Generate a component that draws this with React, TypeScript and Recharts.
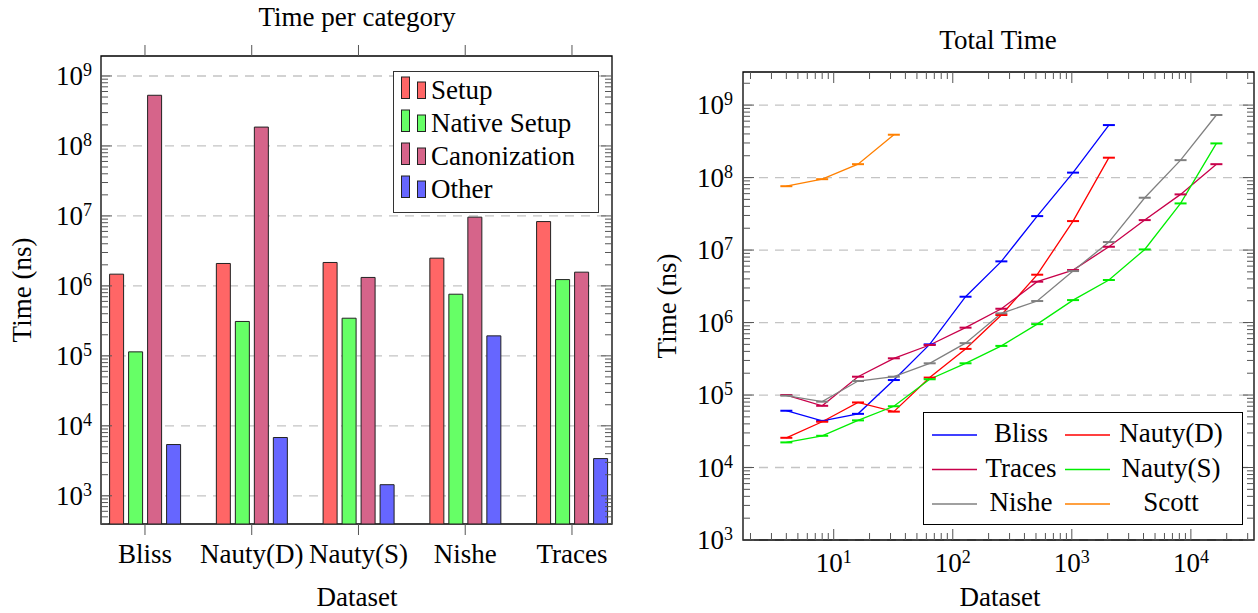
import React from "react";
import { BarChart, Bar, LineChart, Line, XAxis, YAxis, CartesianGrid, Legend, ReferenceArea } from "recharts";

// left panel: time per category (ns)
const categories = ["Bliss", "Nauty(D)", "Nauty(S)", "Nishe", "Traces"];
const setupTimes = [1.47e6, 2.09e6, 2.16e6, 2.49e6, 8.3e6];
const nativeSetupTimes = [1.14e5, 3.1e5, 3.45e5, 7.6e5, 1.23e6];
const canonizationTimes = [5.3e8, 1.86e8, 1.32e6, 9.6e6, 1.57e6];
const otherTimes = [5.4e3, 6.8e3, 1.44e3, 1.93e5, 3.4e3];
const barNames = ["Setup", "Native Setup", "Canonization", "Other"];

// right panel: total time per dataset size (ns)
const sizes = [4, 8, 16, 32, 64, 128, 256, 512, 1024, 2048, 4096, 8192, 16384];
const blissTotal = [6.07e4, 4.4e4, 5.5e4, 1.61e5, 5.0e5, 2.27e6, 6.98e6, 2.94e7, 1.17e8, 5.3e8];
const nautyDTotal = [2.57e4, 4.28e4, 7.9e4, 5.9e4, 1.74e5, 4.33e5, 1.27e6, 4.57e6, 2.51e7, 1.88e8];
const tracesTotal = [1.0e5, 7.1e4, 1.79e5, 3.21e5, 4.9e5, 8.5e5, 1.55e6, 3.66e6, 5.3e6, 1.11e7, 2.59e7, 5.86e7, 1.53e8];
const nautySTotal = [2.22e4, 2.74e4, 4.47e4, 7.0e4, 1.65e5, 2.74e5, 4.76e5, 9.5e5, 2.04e6, 3.86e6, 1.02e7, 4.4e7, 2.96e8];
const nisheTotal = [9.8e4, 8.1e4, 1.56e5, 1.79e5, 2.74e5, 5.2e5, 1.34e6, 1.98e6, 5.13e6, 1.29e7, 5.27e7, 1.74e8, 7.3e8];
const scottTotal = [7.6e7, 9.5e7, 1.53e8, 3.9e8];

const FONT = "Liberation Serif";
const H = 613;

const LEFT_W = 630;
const LEFT_MARGIN = { top: 56, right: 18, bottom: 0, left: 0 };
const LEFT_Y_WIDTH = 101;
const LEFT_X_HEIGHT = 89;
const LEFT_PLOT_W = LEFT_W - LEFT_MARGIN.right - LEFT_Y_WIDTH;
const LEFT_PLOT_H = H - LEFT_MARGIN.top - LEFT_X_HEIGHT;

const RIGHT_W = 628;
const RIGHT_MARGIN = { top: 72, right: 4, bottom: 0, left: 0 };
const RIGHT_Y_WIDTH = 113;
const RIGHT_X_HEIGHT = 73;
const RIGHT_PLOT_W = RIGHT_W - RIGHT_MARGIN.right - RIGHT_Y_WIDTH;
const RIGHT_PLOT_H = H - RIGHT_MARGIN.top - RIGHT_X_HEIGHT;

const leftYDomain = [395, 1.93e9];
const leftXDomain = [-0.412, 4.375];
const rightXDomain = [1.73, 33900];
const rightYDomain = [1000, 2.86e9];

const logTicks = (lo: number, hi: number) => {
  const out: number[] = [];
  for (let e = Math.floor(Math.log10(lo)); e <= Math.ceil(Math.log10(hi)); e++) {
    for (let m = 1; m <= 9; m++) {
      const v = m * Math.pow(10, e);
      if (v >= lo && v <= hi) out.push(v);
    }
  }
  return out;
};
const majorExp = (v: number) => {
  const e = Math.log10(v);
  return Math.abs(e - Math.round(e)) < 1e-9 ? Math.round(e) : null;
};

const leftYTicks = logTicks(leftYDomain[0], leftYDomain[1]);
const rightYTicks = logTicks(rightYDomain[0], rightYDomain[1]);
const rightXTicks = logTicks(rightXDomain[0], rightXDomain[1]);
const leftMajors = leftYTicks.filter((v) => majorExp(v) !== null);
const rightMajors = rightYTicks.filter((v) => majorExp(v) !== null);

const barRows = categories.map((name, i) => ({
  idx: i,
  name,
  setup: setupTimes[i],
  native: nativeSetupTimes[i],
  canon: canonizationTimes[i],
  other: otherTimes[i],
}));

const totalRows = sizes.map((n, i) => ({
  n,
  bliss: blissTotal[i],
  nautyD: nautyDTotal[i],
  traces: tracesTotal[i],
  nautyS: nautySTotal[i],
  nishe: nisheTotal[i],
  scott: scottTotal[i],
}));

const lineSeries = [
  { key: "bliss", name: "Bliss", color: "#0000ff" },
  { key: "nautyD", name: "Nauty(D)", color: "#ff0000" },
  { key: "traces", name: "Traces", color: "#c8004a" },
  { key: "nautyS", name: "Nauty(S)", color: "#00ee00" },
  { key: "nishe", name: "Nishe", color: "#808080" },
  { key: "scott", name: "Scott", color: "#ff8000" },
];
const lineNames = lineSeries.map((s) => s.name);

const TICK = "#555";
const txt = { fontFamily: FONT, fontSize: 27 };

const ordered = (payload: any[], names: string[]) =>
  [...(payload || [])].sort((a, b) => names.indexOf(a.value) - names.indexOf(b.value));

const PowerLabel = ({ x, y, exp, anchor }: any) => (
  <text x={x} y={y} textAnchor={anchor} style={txt} fill="#000">
    10
    <tspan dy={-9} style={{ fontSize: 18 }}>
      {exp}
    </tspan>
  </text>
);

// y ticks: inside marks on both sides of the frame + 10^k label
const makeYTick = (margin: number, plotW: number) => (p: any) => {
  const { x, y, payload, index } = p;
  const exp = majorExp(payload.value);
  const len = exp === null ? 7 : 11;
  const left = x + margin;
  return (
    <g key={`yt-${index}`}>
      <line x1={left} x2={left + len} y1={y} y2={y} stroke={TICK} />
      <line x1={left + plotW - len} x2={left + plotW} y1={y} y2={y} stroke={TICK} />
      {exp !== null && <PowerLabel x={x} y={y + 9} exp={exp} anchor="end" />}
    </g>
  );
};

const CategoryTick = (p: any) => {
  const { x, y, payload, index } = p;
  return (
    <g key={`ct-${index}`}>
      <line x1={x} x2={x} y1={y} y2={y + 11} stroke={TICK} />
      <line x1={x} x2={x} y1={y - LEFT_PLOT_H - 11} y2={y - LEFT_PLOT_H} stroke={TICK} />
      <text x={x} y={y + 39} textAnchor="middle" style={txt} fill="#000">
        {categories[payload.value]}
      </text>
    </g>
  );
};

const SizeTick = (p: any) => {
  const { x, y, payload, index } = p;
  const exp = majorExp(payload.value);
  const len = exp === null ? 7 : 11;
  return (
    <g key={`st-${index}`}>
      <line x1={x} x2={x} y1={y - len} y2={y} stroke={TICK} />
      <line x1={x} x2={x} y1={y - RIGHT_PLOT_H} y2={y - RIGHT_PLOT_H + len} stroke={TICK} />
      {exp !== null && <PowerLabel x={x} y={y + 32} exp={exp} anchor="middle" />}
    </g>
  );
};

const BarLegend = ({ payload }: any) => (
  <svg width={206} height={142} style={{ display: "block" }}>
    <rect x={0.5} y={0.5} width={205} height={141} fill="#fff" stroke="#333" />
    {ordered(payload, barNames).map((e: any, i: number) => (
      <g key={e.value} transform={`translate(0 ${33 * i})`}>
        <rect x={8.5} y={6} width={8} height={21.5} fill={e.color} stroke="#222" />
        <rect x={24.5} y={11} width={8} height={16.5} fill={e.color} stroke="#222" />
        <text x={38} y={28} style={txt} fill="#000">
          {e.value}
        </text>
      </g>
    ))}
  </svg>
);

const LineLegend = ({ payload }: any) => (
  <svg width={320} height={113} style={{ display: "block" }}>
    <rect x={0.5} y={0.5} width={319} height={112} fill="#fff" stroke="#000" />
    {ordered(payload, lineNames).map((e: any, i: number) => {
      const col = i % 2;
      const row = Math.floor(i / 2);
      const lx = col === 0 ? 9 : 142;
      const tx = col === 0 ? 98 : 248;
      const base = 30 + row * 34.5;
      return (
        <g key={e.value}>
          <line x1={lx} x2={lx + 45} y1={base - 7} y2={base - 7} stroke={e.color} strokeWidth={1.3} />
          <text x={tx} y={base} textAnchor="middle" style={txt} fill="#000">
            {e.value}
          </text>
        </g>
      );
    })}
  </svg>
);

const cap = (color: string) => (p: any) => {
  if (p.cx == null || p.cy == null || p.value == null) return <g key={`c-${p.index}`} />;
  return <line key={`c-${p.index}`} x1={p.cx - 6} x2={p.cx + 6} y1={p.cy} y2={p.cy} stroke={color} strokeWidth={2} />;
};

export default function App() {
  return (
    <div style={{ position: "absolute", left: 0, top: 0, width: 1258, height: H, background: "#fff", fontFamily: FONT }}>
      <div style={{ position: "absolute", left: 0, top: 0 }}>
        <BarChart width={LEFT_W} height={H} data={barRows} margin={LEFT_MARGIN} barSize={14} barGap={5}>
          <CartesianGrid vertical={false} horizontalValues={leftMajors} stroke="#c4c4c4" strokeWidth={1.3} strokeDasharray="9 7" />
          <XAxis
            dataKey="idx"
            type="number"
            domain={leftXDomain}
            allowDataOverflow
            ticks={[0, 1, 2, 3, 4]}
            interval={0}
            height={LEFT_X_HEIGHT}
            tickSize={0}
            tickMargin={0}
            tickLine={false}
            axisLine={false}
            tick={CategoryTick}
          />
          <YAxis
            type="number"
            scale="log"
            domain={leftYDomain}
            allowDataOverflow
            ticks={leftYTicks}
            interval={0}
            width={LEFT_Y_WIDTH}
            tickSize={0}
            tickMargin={9}
            tickLine={false}
            axisLine={false}
            tick={makeYTick(9, LEFT_PLOT_W)}
          />
          <Bar dataKey="setup" name="Setup" fill="#ff6666" stroke="#222" isAnimationActive={false} />
          <Bar dataKey="native" name="Native Setup" fill="#66ff66" stroke="#222" isAnimationActive={false} />
          <Bar dataKey="canon" name="Canonization" fill="#d6648a" stroke="#222" isAnimationActive={false} />
          <Bar dataKey="other" name="Other" fill="#6666ff" stroke="#222" isAnimationActive={false} />
          <ReferenceArea y1={leftYDomain[0]} y2={leftYDomain[1]} fill="none" stroke="#000" strokeWidth={1.3} ifOverflow="visible" />
          <Legend
            layout="vertical"
            align="center"
            verticalAlign="middle"
            content={BarLegend}
            wrapperStyle={{ left: 393, top: 71, width: 206, height: 142 }}
          />
        </BarChart>
      </div>
      <div style={{ position: "absolute", left: LEFT_W, top: 0 }}>
        <LineChart width={RIGHT_W} height={H} data={totalRows} margin={RIGHT_MARGIN}>
          <CartesianGrid vertical={false} horizontalValues={rightMajors} stroke="#c4c4c4" strokeWidth={1.3} strokeDasharray="9 7" />
          <XAxis
            dataKey="n"
            type="number"
            scale="log"
            domain={rightXDomain}
            allowDataOverflow
            ticks={rightXTicks}
            interval={0}
            height={RIGHT_X_HEIGHT}
            tickSize={0}
            tickMargin={0}
            tickLine={false}
            axisLine={false}
            tick={SizeTick}
          />
          <YAxis
            type="number"
            scale="log"
            domain={rightYDomain}
            allowDataOverflow
            ticks={rightYTicks}
            interval={0}
            width={RIGHT_Y_WIDTH}
            tickSize={0}
            tickMargin={10}
            tickLine={false}
            axisLine={false}
            tick={makeYTick(10, RIGHT_PLOT_W)}
          />
          {lineSeries.map((s) => (
            <Line
              key={s.key}
              dataKey={s.key}
              name={s.name}
              stroke={s.color}
              strokeWidth={1.3}
              dot={cap(s.color)}
              activeDot={false}
              connectNulls={false}
              isAnimationActive={false}
            />
          ))}
          <ReferenceArea y1={rightYDomain[0]} y2={rightYDomain[1]} fill="none" stroke="#000" strokeWidth={1.3} ifOverflow="visible" />
          <Legend
            layout="vertical"
            align="center"
            verticalAlign="middle"
            content={LineLegend}
            wrapperStyle={{ left: 293, top: 412, width: 320, height: 113 }}
          />
        </LineChart>
      </div>
      <svg width={1258} height={H} style={{ position: "absolute", left: 0, top: 0, pointerEvents: "none" }}>
        <text x={357} y={26} textAnchor="middle" style={txt}>Time per category</text>
        <text transform="translate(31 290) rotate(-90)" textAnchor="middle" style={txt}>Time (ns)</text>
        <text x={357} y={606} textAnchor="middle" style={txt}>Dataset</text>
        <text x={998} y={49} textAnchor="middle" style={txt}>Total Time</text>
        <text transform="translate(676 306) rotate(-90)" textAnchor="middle" style={txt}>Time (ns)</text>
        <text x={1000} y={606} textAnchor="middle" style={txt}>Dataset</text>
      </svg>
    </div>
  );
}
